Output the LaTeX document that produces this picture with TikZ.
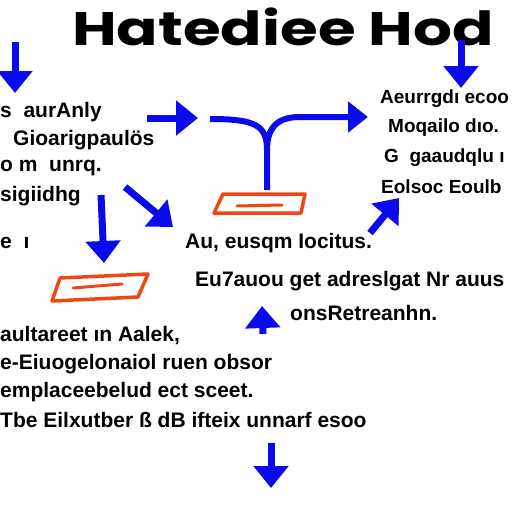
\documentclass[tikz,border=0pt]{standalone}
\usepackage{fontspec}
\setmainfont{Liberation Sans}
\newfontfamily\titlefont{Poppins}
\usetikzlibrary{arrows.meta}
\tikzset{
  txt/.style={anchor=west, inner sep=0pt, font=\fontsize{21}{24}\selectfont\bfseries},
  rtxt/.style={txt, font=\fontsize{19}{22}\selectfont\bfseries},
  bluearrow/.style={draw=arrowblue, line width=7pt, -{Triangle[length=22pt, width=34pt]}},
  forkline/.style={draw=arrowblue, line width=6pt},
  orangebox/.style={draw=boxorange, line width=3.5pt, line join=round}
}
\definecolor{arrowblue}{RGB}{10,10,235}
\definecolor{boxorange}{RGB}{240,70,20}
\begin{document}
\begin{tikzpicture}[x=1pt, y=-1pt]
  \useasboundingbox (0,0) rectangle (512,512);
  \fill[white] (0,0) rectangle (512,512);

  % title
  \node[inner sep=0pt, anchor=base, font=\titlefont\fontsize{47}{50}\selectfont\bfseries] (title) at (283,45) {\scalebox{1.3}[1]{Hatediee Hod}};

  % left text block
  \node[txt] (l1) at (0,112) {s \ aurAnly};
  \node[txt] (l2) at (13,140) {Gioarigpaulös};
  \node[txt] (l3) at (0,168) {o m \ unrq.};
  \node[txt] (l4) at (0,196) {sigiidhg};
  \node[txt] (l5) at (0,243) {e \ ı};

  % right text block
  \node[rtxt] (r1) at (380,99) {Aeurrgdı ecoo};
  \node[rtxt] (r2) at (388,128) {Moqailo dıo.};
  \node[rtxt] (r3) at (384,158) {G \ gaaudqlu ı};
  \node[rtxt] (r4) at (381,187) {Eolsoc Eoulb};

  % middle text block
  \node[txt] (m1) at (185,243) {Au, eusqm Iocitus.};
  \node[txt] (m2) at (195,281) {Eu7auou get adreslgat Nr auus};
  \node[txt] (m3) at (290,313) {onsRetreanhn.};

  % bottom text block
  \node[txt] (b1) at (0,336) {aultareet ın Aalek,};
  \node[txt] (b2) at (0,364) {e-Eiuogelonaiol ruen obsor};
  \node[txt] (b3) at (0,392) {emplaceebelud ect sceet.};
  \node[txt] (b4) at (0,420) {Tbe Eilxutber ß dB ifteix unnarf esoo};

  % orange boxes
  \draw[orangebox] (223,194) -- (305,194) -- (301,213) -- (214,213) -- cycle;
  \draw[orangebox, line width=3pt, line cap=round] (237,206) -- (282,205);
  \draw[orangebox] (60,278) -- (148,274) -- (138,297) -- (52,301) -- cycle;
  \draw[orangebox, line width=3pt, line cap=round] (73,288) -- (122,284);

  % arrows
  \coordinate (a1s) at (15,42);   \coordinate (a1e) at (15,93);
  \coordinate (a2s) at (461,40);  \coordinate (a2e) at (461,88);
  \coordinate (a3s) at (147,118); \coordinate (a3e) at (198,118);
  \coordinate (a4s) at (125,187); \coordinate (a4e) at (173,227);
  \coordinate (a5s) at (101,195); \coordinate (a5e) at (104,263);
  \coordinate (a6s) at (370,233); \coordinate (a6e) at (399,198);
  \coordinate (a7s) at (263,334); \coordinate (a7e) at (262,306);
  \coordinate (a8s) at (271,443); \coordinate (a8e) at (271,488);
  \foreach \s/\e in {a1s/a1e, a2s/a2e, a3s/a3e, a4s/a4e, a5s/a5e, a6s/a6e, a7s/a7e, a8s/a8e}
    \draw[bluearrow] (\s) -- (\e);

  % fork over the centre box
  \coordinate (forkb) at (267,190);
  \coordinate (forkl) at (210,119);
  \coordinate (forkr) at (368,117);
  \draw[forkline] (forkb) -- (267,150) .. controls (267,125) and (255,119) .. (forkl);
  \draw[forkline, -{Triangle[length=20pt, width=30pt]}] (267,150) .. controls (267,125) and (280,117) .. (300,117) -- (forkr);
\end{tikzpicture}
\end{document}
